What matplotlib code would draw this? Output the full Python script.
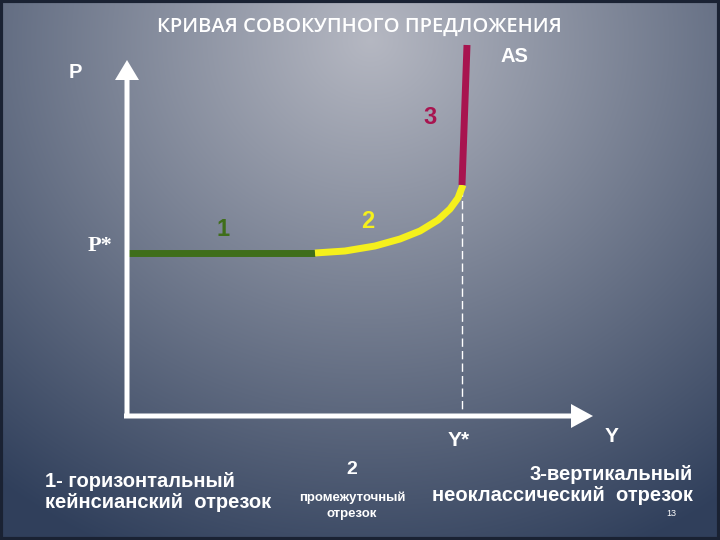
import numpy as np
import matplotlib
matplotlib.use('Agg')
import matplotlib.pyplot as plt
from matplotlib.patches import FancyArrow

plt.rcParams['font.family'] = ['Liberation Sans', 'DejaVu Sans']

# curve segments (picture coordinates, y grows downward)
green_x = [127, 315]
green_y = [253, 253]
yellow_x = [315, 345, 375, 400, 420, 438, 450, 458, 463]
yellow_y = [253, 251, 246, 239, 231, 220, 209, 198, 185]
red_x = [462, 467]
red_y = [185, 45]
y_star = 462
p_star = 253

fig = plt.figure(figsize=(7.2, 5.4), dpi=100)
ax = fig.add_axes([0, 0, 1, 1])
ax.set_xlim(0, 720)
ax.set_ylim(540, 0)
ax.axis('off')

# background radial gradient
xx, yy = np.meshgrid(np.arange(720), np.arange(540))
r = np.sqrt(((xx - 370) / 600.0) ** 2 + ((yy - 40) / 560.0) ** 2)
r = np.clip(r, 0, 1)
c0 = np.array([0.71, 0.72, 0.76])
c1 = np.array([0.19, 0.25, 0.36])
img = c0[None, None, :] * (1 - r[..., None]) + c1[None, None, :] * r[..., None]
ax.imshow(img, extent=[0, 720, 540, 0], aspect='auto', zorder=0)
ax.add_patch(plt.Rectangle((1, 1), 718, 538, fill=False, ec='#1a2233', lw=3, zorder=1))

# axes arrows
ax.add_patch(FancyArrow(127, 418, 0, -358, width=5, head_width=24, head_length=20,
                        length_includes_head=True, color='white', lw=0, zorder=4))
ax.add_patch(FancyArrow(124, 416, 469, 0, width=5, head_width=24, head_length=22,
                        length_includes_head=True, color='white', lw=0, zorder=4))

ax.plot([y_star, y_star], [188, 412], color='white', lw=1, ls=(0, (6, 3)), zorder=2)
ax.plot(green_x, green_y, color='#3f6e1a', lw=5, solid_capstyle='butt', zorder=3)
ax.plot(yellow_x, yellow_y, color='#f5f01c', lw=5, solid_capstyle='butt', zorder=3)
ax.plot(red_x, red_y, color='#a8144f', lw=5, solid_capstyle='butt', zorder=3)

ax.text(359, 27, 'КРИВАЯ СОВОКУПНОГО ПРЕДЛОЖЕНИЯ', color='white', fontsize=14.5,
        ha='center', va='center', family=['Open Sans', 'DejaVu Sans'], fontweight='semibold')
ax.text(514, 57, 'AS', color='white', fontsize=14.5, ha='center', va='center', fontweight='bold')
ax.text(75, 72, 'P', color='white', fontsize=14.5, ha='center', va='center', fontweight='bold')
ax.text(100, 246, 'P*', color='white', fontsize=16, ha='center', va='center',
        family=['Liberation Serif', 'DejaVu Serif'], fontweight='bold')
ax.text(223, 230, '1', color='#3f6e1a', fontsize=17, ha='center', va='center', fontweight='bold')
ax.text(368, 221, '2', color='#f5f01c', fontsize=17, ha='center', va='center', fontweight='bold')
ax.text(430, 117, '3', color='#a8144f', fontsize=17, ha='center', va='center', fontweight='bold')
ax.text(459, 440, 'Y*', color='white', fontsize=15, ha='center', va='center', fontweight='bold')
ax.text(612, 437, 'Y', color='white', fontsize=15, ha='center', va='center', fontweight='bold')

ax.text(45, 492, '1- горизонтальный\nкейнсианский  отрезок', color='white', fontsize=14.5,
        ha='left', va='center', linespacing=1.15, fontweight='bold')
ax.text(352, 470, '2', color='white', fontsize=14, ha='center', va='center', fontweight='bold')
ax.text(352, 506, 'промежуточный\nотрезок', color='white', fontsize=9.5,
        ha='center', va='center', linespacing=1.4, fontweight='bold')
ax.text(693, 485, '3-вертикальный\nнеоклассический  отрезок', color='white', fontsize=14.5,
        ha='right', va='center', linespacing=1.15, multialignment='right', fontweight='bold')
ax.text(671, 514, '13', color='white', fontsize=6.5, ha='center', va='center')

fig.savefig('out.png', dpi=100)
